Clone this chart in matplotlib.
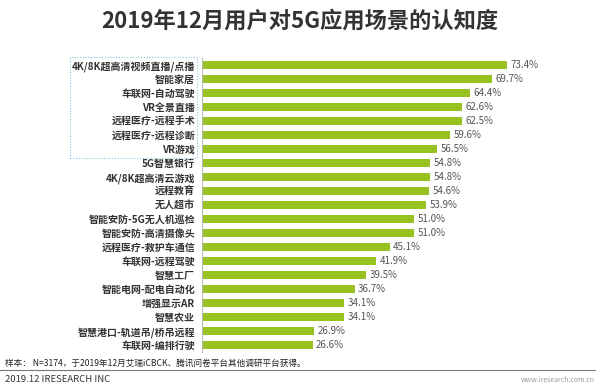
import matplotlib.pyplot as plt
from matplotlib.patches import Rectangle

plt.rcParams['font.family'] = ['Noto Sans CJK SC', 'DejaVu Sans']

# data
scenes = ['4K/8K超高清视频直播/点播', '智能家居', '车联网-自动驾驶', 'VR全景直播',
          '远程医疗-远程手术', '远程医疗-远程诊断', 'VR游戏', '5G智慧银行',
          '4K/8K超高清云游戏', '远程教育', '无人超市', '智能安防-5G无人机巡检',
          '智能安防-高清摄像头', '远程医疗-救护车通信', '车联网-远程驾驶', '智慧工厂',
          '智能电网-配电自动化', '增强显示AR', '智慧农业', '智慧港口-轨道吊/桥吊远程',
          '车联网-编排行驶']
awareness = [73.4, 69.7, 64.4, 62.6, 62.5, 59.6, 56.5, 54.8, 54.8, 54.6, 53.9,
             51.0, 51.0, 45.1, 41.9, 39.5, 36.7, 34.1, 34.1, 26.9, 26.6]

title = '2019年12月用户对5G应用场景的认知度'
note = '样本： N=3174，于2019年12月艾瑞iCBCK、腾讯问卷平台其他调研平台获得。'

fig = plt.figure(figsize=(6, 3.91), dpi=100)
ax = fig.add_axes([202 / 600, 1 - 352 / 391, 388 / 600, 294 / 391])

ypos = list(range(len(scenes)))
ax.barh(ypos, awareness, height=0.58, color='#97c21f')
for y, v in zip(ypos, awareness):
    ax.text(v + 0.8, y, f'{v:.1f}%', va='center', ha='left', fontsize=7, color='#555555')

ax.set_xlim(0, 388 / 4.16)
ax.set_ylim(len(scenes) - 0.5, -0.5)
ax.set_yticks(ypos)
ax.set_yticklabels(scenes, fontsize=7.2, fontweight='bold', color='#333333')
ax.tick_params(axis='y', length=0, pad=5)
ax.set_xticks([])
for side in ['top', 'right', 'bottom']:
    ax.spines[side].set_visible(False)
ax.spines['left'].set_color('#bbbbbb')
ax.spines['left'].set_linewidth(0.8)

# dotted box round the top seven
fig.patches.append(Rectangle((70 / 600, 1 - 158 / 391), 127 / 600, 101 / 391,
                             transform=fig.transFigure, fill=False,
                             edgecolor='#8cc8dc', linestyle=(0, (1, 1.5)), linewidth=0.8))

fig.text(0.5, 1 - 21 / 391, title, ha='center', va='center', fontsize=16,
         fontweight='bold', color='#333333')
fig.text(5 / 600, 1 - 363 / 391, note, ha='left', va='center', fontsize=6.2,
         color='#222222')
fig.add_artist(plt.Line2D([0, 595 / 600], [1 - 370 / 391] * 2, color='#777777', lw=0.8))
fig.text(5 / 600, 1 - 379 / 391, '2019.12 IRESEARCH INC', ha='left', va='center',
         fontsize=6.8, color='#333333')
fig.text(595 / 600, 1 - 380 / 391, 'www.iresearch.com.cn', ha='right', va='center',
         fontsize=5, color='#999999')

fig.savefig('out.png', dpi=100, facecolor='white')
